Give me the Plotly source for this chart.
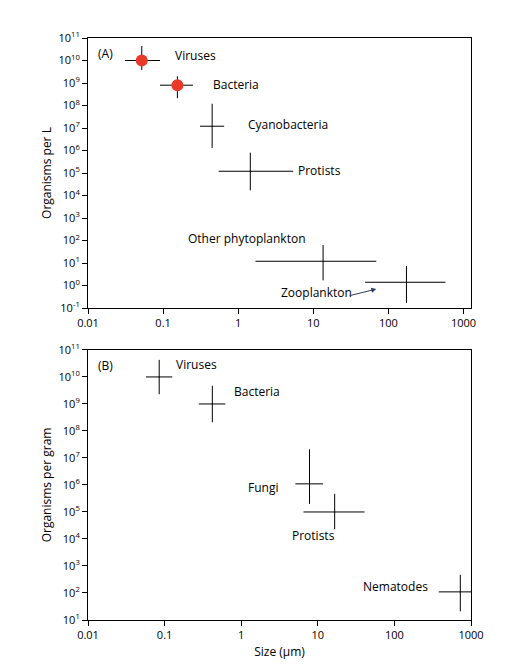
import math
import plotly.graph_objects as go
from plotly.subplots import make_subplots

# Panel A (aquatic, organisms per L)
a_names = ["Viruses", "Bacteria", "Cyanobacteria", "Protists", "Other phytoplankton", "Zooplankton"]
a_x = [0.052, 0.155, 0.45, 1.45, 13.5, 174]
a_xlo = [0.031, 0.091, 0.31, 0.55, 1.7, 49]
a_xhi = [0.091, 0.25, 0.65, 5.4, 69, 575]
a_y = [1.0e10, 8e8, 1.2e7, 1.2e5, 12, 1.4]
a_ylo = [3.8e9, 2.1e8, 1.3e6, 1.7e4, 1.7, 0.17]
a_yhi = [4.4e10, 2.0e9, 1.2e8, 8e5, 63, 7.4]
a_red = [True, True, False, False, False, False]
a_labx = [0.135, 0.44, 1.28, 5.8, 1.3, 11]
a_laby = [1.6e10, 9e8, 1.5e7, 1.35e5, 1.2e2, 0.5]
a_labanchor = ["left", "left", "left", "left", "center", "center"]

# Panel B (soil, organisms per gram)
b_names = ["Viruses", "Bacteria", "Fungi", "Protists", "Nematodes"]
b_x = [0.085, 0.42, 7.8, 16.6, 725]
b_xlo = [0.057, 0.28, 5.1, 6.5, 380]
b_xhi = [0.126, 0.62, 11.7, 40.7, 1000]
b_y = [1.0e10, 1.0e9, 1.1e6, 1.0e5, 110]
b_ylo = [2.3e9, 2.1e8, 2.0e5, 2.3e4, 21]
b_yhi = [4.3e10, 4.7e9, 2.1e7, 4.7e5, 470]
b_labx = [0.133, 0.76, 1.16, 8.9, 37]
b_laby = [2.8e10, 2.8e9, 7.8e5, 1.3e4, 180]
b_labanchor = ["left", "left", "left", "center", "left"]

fig = make_subplots(rows=2, cols=1)

def add(xs, xlo, xhi, ys, ylo, yhi, row):
    fig.add_trace(go.Scatter(
        x=xs, y=ys, mode="markers", marker=dict(size=1, color="black"),
        error_x=dict(type="data", symmetric=False,
                     array=[h - v for h, v in zip(xhi, xs)],
                     arrayminus=[v - l for l, v in zip(xlo, xs)],
                     color="black", thickness=1, width=0),
        error_y=dict(type="data", symmetric=False,
                     array=[h - v for h, v in zip(yhi, ys)],
                     arrayminus=[v - l for l, v in zip(ylo, ys)],
                     color="black", thickness=1, width=0),
        showlegend=False), row=row, col=1)

add(a_x, a_xlo, a_xhi, a_y, a_ylo, a_yhi, 1)
add(b_x, b_xlo, b_xhi, b_y, b_ylo, b_yhi, 2)
fig.add_trace(go.Scatter(
    x=[x for x, r in zip(a_x, a_red) if r], y=[y for y, r in zip(a_y, a_red) if r],
    mode="markers", marker=dict(size=12, color="#e8392a"), showlegend=False), row=1, col=1)

for n, lx, ly, al in zip(a_names, a_labx, a_laby, a_labanchor):
    fig.add_annotation(x=math.log10(lx), y=math.log10(ly), text=n, showarrow=False,
                       xanchor=al, xref="x", yref="y", font=dict(size=12))
fig.add_annotation(x=math.log10(69), y=math.log10(0.7), ax=math.log10(29), ay=math.log10(0.34),
                   xref="x", yref="y", axref="x", ayref="y", text="", showarrow=True,
                   arrowhead=2, arrowsize=1, arrowwidth=1, standoff=0)
for n, lx, ly, al in zip(b_names, b_labx, b_laby, b_labanchor):
    fig.add_annotation(x=math.log10(lx), y=math.log10(ly), text=n, showarrow=False,
                       xanchor=al, xref="x2", yref="y2", font=dict(size=12))
fig.add_annotation(x=-2, y=10.3, text="(A)", showarrow=False, xanchor="left",
                   xref="x", yref="y", font=dict(size=12), xshift=8)
fig.add_annotation(x=-2, y=10.44, text="(B)", showarrow=False, xanchor="left",
                   xref="x2", yref="y2", font=dict(size=12), xshift=8)

xt = [0.01, 0.1, 1, 10, 100, 1000]
xtt = ["0.01", "0.1", "1", "10", "100", "1000"]
ax_common = dict(type="log", showgrid=False, zeroline=False, showline=True, linecolor="black",
                 linewidth=1, mirror=True, ticks="outside", tickcolor="black", ticklen=5,
                 automargin=False, tickfont=dict(size=11, color="black"))
fig.update_xaxes(**ax_common, tickvals=xt, ticktext=xtt)
fig.update_xaxes(range=[-2, 3.1], row=1, col=1)
fig.update_xaxes(range=[-2, 3], row=2, col=1, title=dict(text="Size (µm)", font=dict(size=12), standoff=6))
ya = list(range(-1, 12))
fig.update_yaxes(**ax_common)
fig.update_yaxes(range=[-1, 11], tickvals=[10**p for p in ya], domain=[0.536, 1],
                 ticktext=[f"10<sup>{p}</sup>" for p in ya], row=1, col=1,
                 title=dict(text="Organisms per L", font=dict(size=12), standoff=4))
yb = list(range(1, 12))
fig.update_yaxes(range=[1, 11], tickvals=[10**p for p in yb], domain=[0, 0.464],
                 ticktext=[f"10<sup>{p}</sup>" for p in yb], row=2, col=1,
                 title=dict(text="Organisms per gram", font=dict(size=12), standoff=4))
fig.update_layout(width=522, height=670, plot_bgcolor="white", paper_bgcolor="white",
                  margin=dict(l=80, r=59, t=30, b=58),
                  font=dict(family="Open Sans", color="black"))
fig.write_html("out.html")
